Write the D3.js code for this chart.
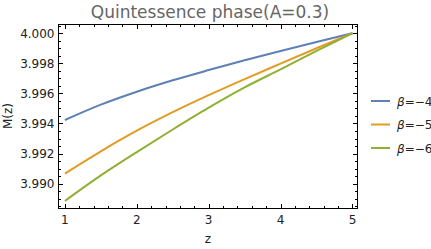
<!DOCTYPE html>
<html lang="en">
<head>
<meta charset="UTF-8">
<script src="https://d3js.org/d3.v7.min.js"></script>
<style>
body { margin: 0; background: #fff; }
.tick-label { font: 12px "DejaVu Sans", sans-serif; fill: #222; }
.title { font: 17px "DejaVu Sans", sans-serif; fill: #666; text-anchor: middle; }
.axis-title { font: 12px "DejaVu Sans", sans-serif; fill: #222; }
.legend { font: 12px "DejaVu Sans", sans-serif; fill: #222; }
</style>
</head>
<body>
<svg width="431" height="249"></svg>
<script>
// values, at z = 1, 1.5, ... 5
var zs = [1, 1.5, 2, 2.5, 3, 3.5, 4, 4.5, 5];
var mBeta4 = [3.99423, 3.99525, 3.99611, 3.99687, 3.99755, 3.99820, 3.99882, 3.99942, 4.00000];
var mBeta5 = [3.99067, 3.99215, 3.99352, 3.99475, 3.99588, 3.99695, 3.99798, 3.99900, 4.00000];
var mBeta6 = [3.98885, 3.99055, 3.99210, 3.99360, 3.99505, 3.99640, 3.99760, 3.99882, 4.00000];
var seriesNames = ["4", "5", "6"];
var colors = ["#5E81B5", "#E19C24", "#8FB032"];
var xTicks = [1, 2, 3, 4, 5];
var yTicks = [3.990, 3.992, 3.994, 3.996, 3.998, 4.000];

var svg = d3.select("svg");
var pl = 58.5, pr = 357.5, pt = 24.5, pb = 208.5;

var x = d3.scaleLinear().domain([0.911, 5.07]).range([pl, pr]);
var y = d3.scaleLinear().domain([3.98835, 4.00058]).range([pb, pt]);

// frame
svg.append("rect")
  .attr("x", pl).attr("y", pt)
  .attr("width", pr - pl).attr("height", pb - pt)
  .attr("fill", "none").attr("stroke", "#000").attr("stroke-width", 1);

// minor ticks
var xMinor = d3.range(0.8, 5.21, 0.2).filter(function(v) { return v > 0.911 && v < 5.07; });
var yMinor = d3.range(3.9885, 4.0006, 0.0005).filter(function(v) { return v > 3.98835 && v < 4.00058; });

function tickMarks(vals, len) {
  vals.forEach(function(v) {
    var px = Math.round(x(v)) + 0.5;
    svg.append("line").attr("x1", px).attr("x2", px).attr("y1", pb).attr("y2", pb - len).attr("stroke", "#000");
    svg.append("line").attr("x1", px).attr("x2", px).attr("y1", pt).attr("y2", pt + len).attr("stroke", "#000");
  });
}
function tickMarksY(vals, len) {
  vals.forEach(function(v) {
    var py = Math.round(y(v)) + 0.5;
    svg.append("line").attr("y1", py).attr("y2", py).attr("x1", pl).attr("x2", pl + len).attr("stroke", "#000");
    svg.append("line").attr("y1", py).attr("y2", py).attr("x1", pr).attr("x2", pr - len).attr("stroke", "#000");
  });
}
tickMarks(xMinor, 2.5);
tickMarks(xTicks, 4.5);
tickMarksY(yMinor, 2.5);
tickMarksY(yTicks, 4.5);

// tick labels
svg.selectAll(".xl").data(xTicks).enter().append("text")
  .attr("class", "tick-label")
  .attr("x", function(d) { return x(d); })
  .attr("y", pb + 15)
  .attr("text-anchor", "middle")
  .text(function(d) { return d; });

svg.selectAll(".yl").data(yTicks).enter().append("text")
  .attr("class", "tick-label")
  .attr("x", pl - 4)
  .attr("y", function(d) { return y(d) + 4.5; })
  .attr("text-anchor", "end")
  .text(function(d) { return d3.format(".3f")(d); });

// curves
var line = d3.line()
  .x(function(d, i) { return x(zs[i]); })
  .y(function(d) { return y(d); })
  .curve(d3.curveMonotoneX);

[mBeta4, mBeta5, mBeta6].forEach(function(s, i) {
  svg.append("path")
    .attr("d", line(s))
    .attr("fill", "none")
    .attr("stroke", colors[i])
    .attr("stroke-width", 2);
});

// titles
svg.append("text").attr("class", "title").attr("x", 210).attr("y", 18).text("Quintessence phase(A=0.3)");
svg.append("text").attr("class", "axis-title").attr("x", 208).attr("y", 243).attr("text-anchor", "middle").text("z");
svg.append("text").attr("class", "axis-title")
  .attr("transform", "translate(12,116) rotate(-90)")
  .attr("text-anchor", "middle").text("M(z)");

// legend
seriesNames.forEach(function(n, i) {
  var ly = 101 + i * 23.5;
  svg.append("line").attr("x1", 371).attr("x2", 390).attr("y1", ly).attr("y2", ly)
    .attr("stroke", colors[i]).attr("stroke-width", 2);
  var t = svg.append("text").attr("class", "legend").attr("x", 397).attr("y", ly + 4.5);
  t.append("tspan").attr("font-style", "italic").text("\u03b2");
  t.append("tspan").text("=\u2212" + n);
});
</script>
</body>
</html>
